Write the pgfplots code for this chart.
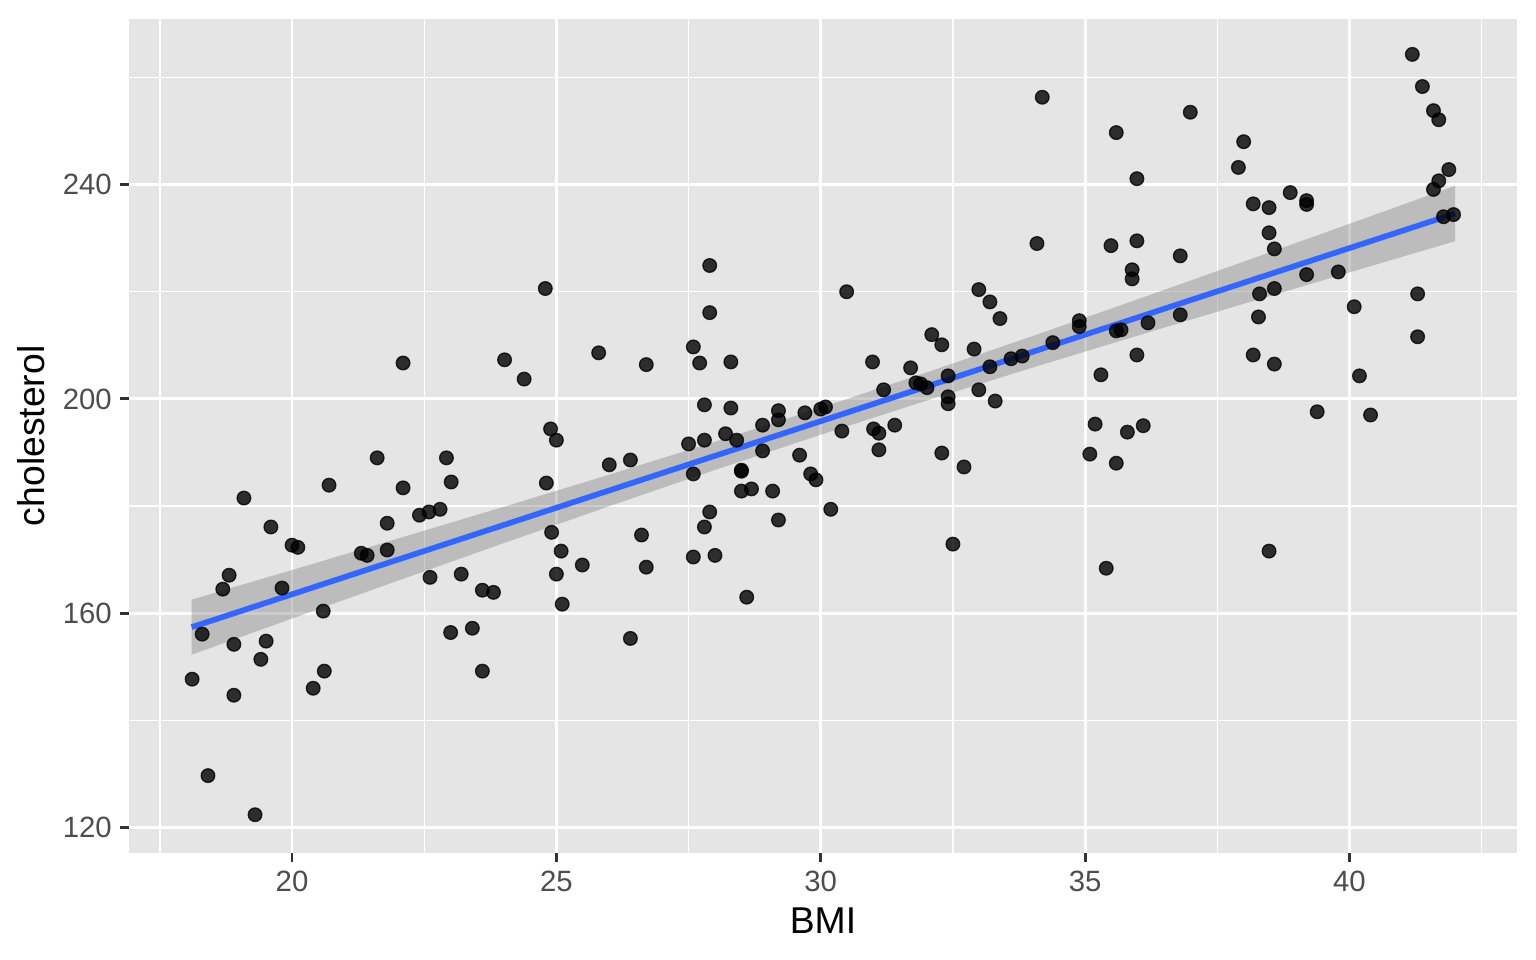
\documentclass[border=0pt]{standalone}
\usepackage{fontspec}
\setmainfont{Liberation Sans}
\usepackage{pgfplots}
\pgfplotsset{compat=1.18}
\definecolor{panelbg}{HTML}{E5E5E5}
\definecolor{tickc}{HTML}{333333}
\definecolor{labc}{HTML}{4D4D4D}
\definecolor{smoothblue}{HTML}{3366FF}
\begin{document}
\begin{tikzpicture}
\useasboundingbox (-48.375bp,-40.24bp) rectangle (527.625bp,319.73bp);
\begin{axis}[
  at={(0,0)}, anchor=south west,
  scale only axis, width=520.5bp, height=312.6bp,
  xmin=16.916, xmax=43.17, ymin=115.33, ymax=270.9,
  xtick={20,25,30,35,40}, ytick={120,160,200,240},
  minor xtick={17.5,22.5,27.5,32.5,37.5,42.5},
  minor ytick={140,180,220,260},
  grid=both,
  major grid style={white, line width=1.07bp},
  minor grid style={white, line width=0.53bp},
  axis background/.style={fill=panelbg},
  axis line style={draw=none},
  tick align=outside, major tick length=3.375bp, minor tick length=0pt,
  tick style={color=tickc, line width=1.07bp},
  xtick pos=lower, ytick pos=left,
  /pgf/number format/assume math mode=true,
  ticklabel style={font=\fontsize{11bp}{13bp}\selectfont, text=labc},
  xticklabel style={inner sep=0pt, anchor=north},
  yticklabel style={inner sep=0pt, anchor=east},
  xticklabel shift=3.375bp, yticklabel shift=2.9bp,
  xlabel={BMI}, ylabel={cholesterol},
  label style={font=\fontsize{14bp}{17bp}\selectfont, text=black, inner sep=0pt},
  xlabel style={at={(rel axis cs:0.5,0)}, yshift=-25.5bp, anchor=center},
  ylabel style={at={(rel axis cs:0,0.5)}, yshift=36.8bp, anchor=center},
]
\addplot[only marks, mark=*, mark size=2.55bp, mark options={draw=black, fill=black, line width=0.5bp, opacity=0.8}] coordinates {
(18.11,147.7) (18.30,156.1) (18.41,129.7) (18.69,164.5) (18.81,167.1) (18.90,154.2) (18.90,144.7)
(19.09,181.5) (19.30,122.4) (19.41,151.4) (19.51,154.8) (19.60,176.1) (19.81,164.7) (20.00,172.7)
(20.11,172.3) (20.40,146.0) (20.59,160.4) (20.61,149.2) (20.70,183.9) (21.31,171.2) (21.42,170.8)
(21.61,189.0) (21.80,176.8) (21.80,171.8) (22.10,206.7) (22.10,183.4) (22.41,178.3) (22.59,178.9)
(22.61,166.7) (22.80,179.4) (22.92,189.0) (23.00,156.4) (23.01,184.5) (23.20,167.3) (23.41,157.2)
(23.60,164.3) (23.60,149.2) (23.81,163.9) (24.02,207.3) (24.39,203.7) (24.79,220.6) (24.81,184.3)
(24.89,194.4) (24.91,175.1) (25.00,192.3) (25.00,167.3) (25.09,171.6) (25.11,161.7) (25.49,169.0)
(25.80,208.6) (26.00,187.7) (26.40,188.6) (26.40,155.3) (26.61,174.6) (26.70,206.4) (26.70,168.6)
(27.50,191.6) (27.59,209.7) (27.59,186.0) (27.59,170.5) (27.71,206.7) (27.80,198.9) (27.80,192.3)
(27.80,176.1) (27.90,224.9) (27.90,216.1) (27.90,178.9) (28.00,170.8) (28.20,193.5) (28.30,206.9)
(28.30,198.3) (28.41,192.3) (28.50,186.7) (28.50,186.5) (28.50,182.8) (28.60,163.0) (28.69,183.2)
(28.90,195.1) (28.90,190.3) (29.09,182.8) (29.20,197.8) (29.20,196.1) (29.20,177.4) (29.60,189.5)
(29.70,197.4) (29.81,186.0) (29.91,184.9) (30.00,198.1) (30.09,198.5) (30.19,179.4) (30.40,194.0)
(30.49,220.0) (30.98,206.9) (31.00,194.4) (31.10,193.6) (31.10,190.5) (31.19,201.7) (31.40,195.1)
(31.70,205.8) (31.80,203.0) (31.89,202.8) (32.01,202.1) (32.10,212.0) (32.29,210.1) (32.29,189.9)
(32.41,204.3) (32.41,200.4) (32.41,199.1) (32.50,172.9) (32.71,187.3) (32.90,209.3) (32.99,220.4)
(32.99,201.7) (33.20,218.1) (33.20,206.0) (33.30,199.6) (33.39,215.0) (33.60,207.5) (33.81,208.0)
(34.09,229.0) (34.19,256.3) (34.39,210.5) (34.89,214.6) (34.89,213.5) (35.09,189.7) (35.19,195.3)
(35.30,204.5) (35.40,168.4) (35.49,228.6) (35.59,249.7) (35.59,212.7) (35.59,188.0) (35.68,212.9)
(35.80,193.8) (35.89,224.1) (35.89,222.4) (35.98,241.1) (35.98,229.5) (35.98,208.2) (36.10,195.0)
(36.19,214.2) (36.80,226.7) (36.80,215.7) (36.99,253.5) (37.90,243.2) (38.00,248.0) (38.18,236.4)
(38.18,208.2) (38.28,215.3) (38.30,219.6) (38.48,235.7) (38.48,231.0) (38.48,171.6) (38.58,228.0)
(38.58,220.6) (38.58,206.5) (38.88,238.5) (39.19,237.0) (39.19,236.3) (39.19,223.2) (39.39,197.6)
(39.79,223.7) (40.09,217.2) (40.19,204.3) (40.40,197.0) (41.19,264.3) (41.29,219.6) (41.29,211.6)
(41.38,258.3) (41.59,253.8) (41.59,239.1) (41.69,252.1) (41.69,240.7) (41.78,234.0) (41.88,242.8)
(41.97,234.4)
};
\addplot[draw=none, fill=gray, fill opacity=0.4] coordinates {
(18.1,162.54) (20,168.07) (22,173.93) (24,179.85) (26,185.86) (28,192.01) (30,198.36)
(32,204.93) (34,211.70) (36,218.61) (38,225.61) (40,232.67) (42,239.77)
(42,229.43) (40,223.61) (38,217.75) (36,211.83) (34,205.82) (32,199.67) (30,193.32)
(28,186.75) (26,179.98) (24,173.07) (22,166.07) (20,159.01) (18.1,152.26)
};
\addplot[color=smoothblue, line width=2.13bp, no marks] coordinates {
(18.1,157.4) (42,234.6)
};
\end{axis}
\end{tikzpicture}
\end{document}
